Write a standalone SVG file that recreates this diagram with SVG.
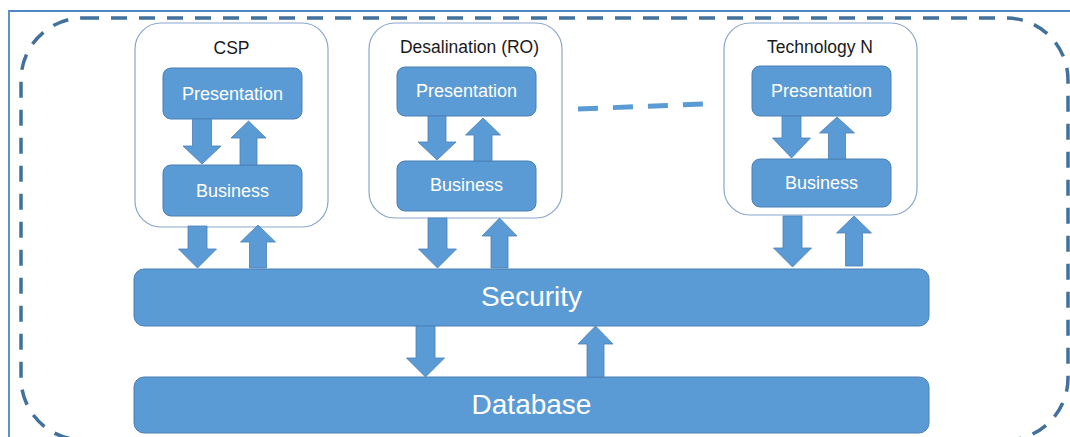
<svg xmlns="http://www.w3.org/2000/svg" width="1070" height="437" viewBox="0 0 1070 437">
<style>
.frame{fill:none;stroke:#4f86c6;stroke-width:1.8}
.outer{fill:none;stroke:#41719c;stroke-width:3.5;stroke-dasharray:16 12}
.tech{fill:#ffffff;stroke:#8aa6cc;stroke-width:1.2}
.box{fill:#5b9bd5;stroke:#4a7fb5;stroke-width:1}
.arrow{fill:#5b9bd5;stroke:#4a7fb5;stroke-width:0.8}
.link{fill:none;stroke:#5b9bd5;stroke-width:5;stroke-dasharray:20 15}
.title{font-family:"Liberation Sans",Arial,sans-serif;font-size:17.5px;fill:#1a1a1a;text-anchor:middle}
.lbl{font-family:"Liberation Sans",Arial,sans-serif;font-size:18px;fill:#ffffff;text-anchor:middle}
.big{font-family:"Liberation Sans",Arial,sans-serif;font-size:28px;fill:#ffffff;text-anchor:middle}
</style>
<rect width="1070" height="437" fill="#ffffff"/>
<path class="frame" d="M9,437 L9,11 L1070,11"/>
<g id="container">
<rect class="outer" x="21" y="18" width="1047" height="422" rx="62" ry="62"/>
</g>
<g id="csp">
<rect class="tech" x="135" y="23" width="193" height="204" rx="26"/>
<text class="title" x="231.5" y="54">CSP</text>
</g>
<g id="csp-presentation">
<rect class="box" x="163" y="68" width="139" height="51" rx="8"/>
<text class="lbl" x="232.5" y="100">Presentation</text>
</g>
<g id="csp-business">
<rect class="box" x="163" y="165" width="139" height="51" rx="8"/>
<text class="lbl" x="232.5" y="197">Business</text>
</g>
<g id="desal">
<rect class="tech" x="369" y="23" width="193" height="195" rx="26"/>
<text class="title" x="469.5" y="53">Desalination (RO)</text>
</g>
<g id="desal-presentation">
<rect class="box" x="397" y="67" width="139" height="49" rx="8"/>
<text class="lbl" x="466.5" y="97">Presentation</text>
</g>
<g id="desal-business">
<rect class="box" x="397" y="161" width="139" height="50" rx="8"/>
<text class="lbl" x="466.5" y="191">Business</text>
</g>
<g id="techn">
<rect class="tech" x="724" y="23" width="193" height="192" rx="26"/>
<text class="title" x="820" y="53">Technology N</text>
</g>
<g id="techn-presentation">
<rect class="box" x="752" y="66" width="139" height="50" rx="8"/>
<text class="lbl" x="821.5" y="97">Presentation</text>
</g>
<g id="techn-business">
<rect class="box" x="752" y="159" width="139" height="48" rx="8"/>
<text class="lbl" x="821.5" y="189">Business</text>
</g>
<g id="security">
<rect class="box" x="134" y="269" width="795" height="57" rx="10"/>
<text class="big" x="531.5" y="306">Security</text>
</g>
<g id="database">
<rect class="box" x="134" y="377" width="795" height="56" rx="10"/>
<text class="big" x="531.5" y="414">Database</text>
</g>
<g id="connectors">
<path class="link" d="M578,109 L705,104"/>
<polygon class="arrow" points="192.5,119 211.5,119 211.5,146 221,146 202,164 183,146 192.5,146"/>
<polygon class="arrow" points="240,165 257,165 257,138 266,138 248.5,121 231,138 240,138"/>
<polygon class="arrow" points="428,116 446,116 446,142 456,142 437,160 418,142 428,142"/>
<polygon class="arrow" points="474,161 492,161 492,135 500.5,135 483,118 465.5,135 474,135"/>
<polygon class="arrow" points="782,116 801,116 801,138 810.5,138 791.5,158 772.5,138 782,138"/>
<polygon class="arrow" points="828.5,159 845.5,159 845.5,133 854.5,133 837,117 819.5,133 828.5,133"/>
<polygon class="arrow" points="188,226 207,226 207,249 216.5,249 197.5,268 178.5,249 188,249"/>
<polygon class="arrow" points="249.5,268 266.5,268 266.5,242 275.5,242 258,225 240.5,242 249.5,242"/>
<polygon class="arrow" points="428,218 447,218 447,249 456.5,249 437.5,268 418.5,249 428,249"/>
<polygon class="arrow" points="491,268 508,268 508,236 517,236 499.5,218 482,236 491,236"/>
<polygon class="arrow" points="783,216 802,216 802,248 811.5,248 792.5,267 773.5,248 783,248"/>
<polygon class="arrow" points="845.5,266 862.5,266 862.5,233 871.5,233 854,216 836.5,233 845.5,233"/>
<polygon class="arrow" points="416,326 435,326 435,358 444.5,358 425.5,377 406.5,358 416,358"/>
<polygon class="arrow" points="587,377 604,377 604,344 613,344 595.5,326 578,344 587,344"/>
</g>
</svg>
